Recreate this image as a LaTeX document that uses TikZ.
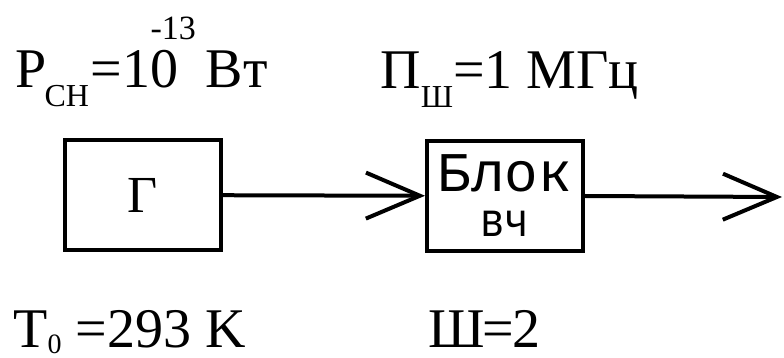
\documentclass[tikz,border=0pt]{standalone}
\usepackage{fontspec}
\setmainfont{Liberation Serif}
\newfontfamily\monofam{Liberation Mono}
\usetikzlibrary{arrows.meta,positioning}

\newcommand{\lowtxt}[1]{\raisebox{-9.5pt}{\fontsize{16}{16}\selectfont #1}}
\newcommand{\lowdigit}[1]{\raisebox{-3pt}{\fontsize{14}{14}\selectfont #1}}
\newcommand{\hightxt}[1]{\raisebox{24pt}{\fontsize{17}{17}\selectfont #1}}

\tikzset{
  blockbox/.style={draw, line width=2pt, minimum width=78pt, minimum height=55pt, inner sep=0pt},
  flow/.style={line width=2pt, -{Straight Barb[length=27pt,width=23pt]}},
  param/.style={anchor=base west, inner sep=0pt, font=\fontsize{28}{30}\selectfont}
}

\begin{document}
\begin{tikzpicture}[x=0.5pt,y=-0.5pt]
  \useasboundingbox (0,0) rectangle (784,358);
  % blocks
  \node[blockbox, font=\fontsize{26}{28}\selectfont] (gen) at (142.5,195) {Г};
  \node[blockbox, align=center, font=\monofam\fontsize{28}{22.5}\selectfont] (hf) at (505,196)
    {Блок\\\scalebox{0.85}[1]{\fontsize{24}{22.5}\selectfont вч}};
  \coordinate (out) at (782,197);
  % connectors
  \draw[flow] (gen) -- (hf);
  \draw[flow] (hf.east) -- (out);
  % parameters
  \node[param] (psn) at (15,88) {P\kern-1pt\lowtxt{СН}\kern1pt=10\kern-14pt\hightxt{-13}\kern5pt Вт};
  \node[param] (band) at (380,89) {П\lowtxt{Ш}=1 МГц};
  \node[param] (temp) at (13,348) {T\lowdigit{0} =293 K};
  \node[param] (noise) at (428,348) {Ш\kern-1pt=\kern-1pt2};
\end{tikzpicture}
\end{document}
